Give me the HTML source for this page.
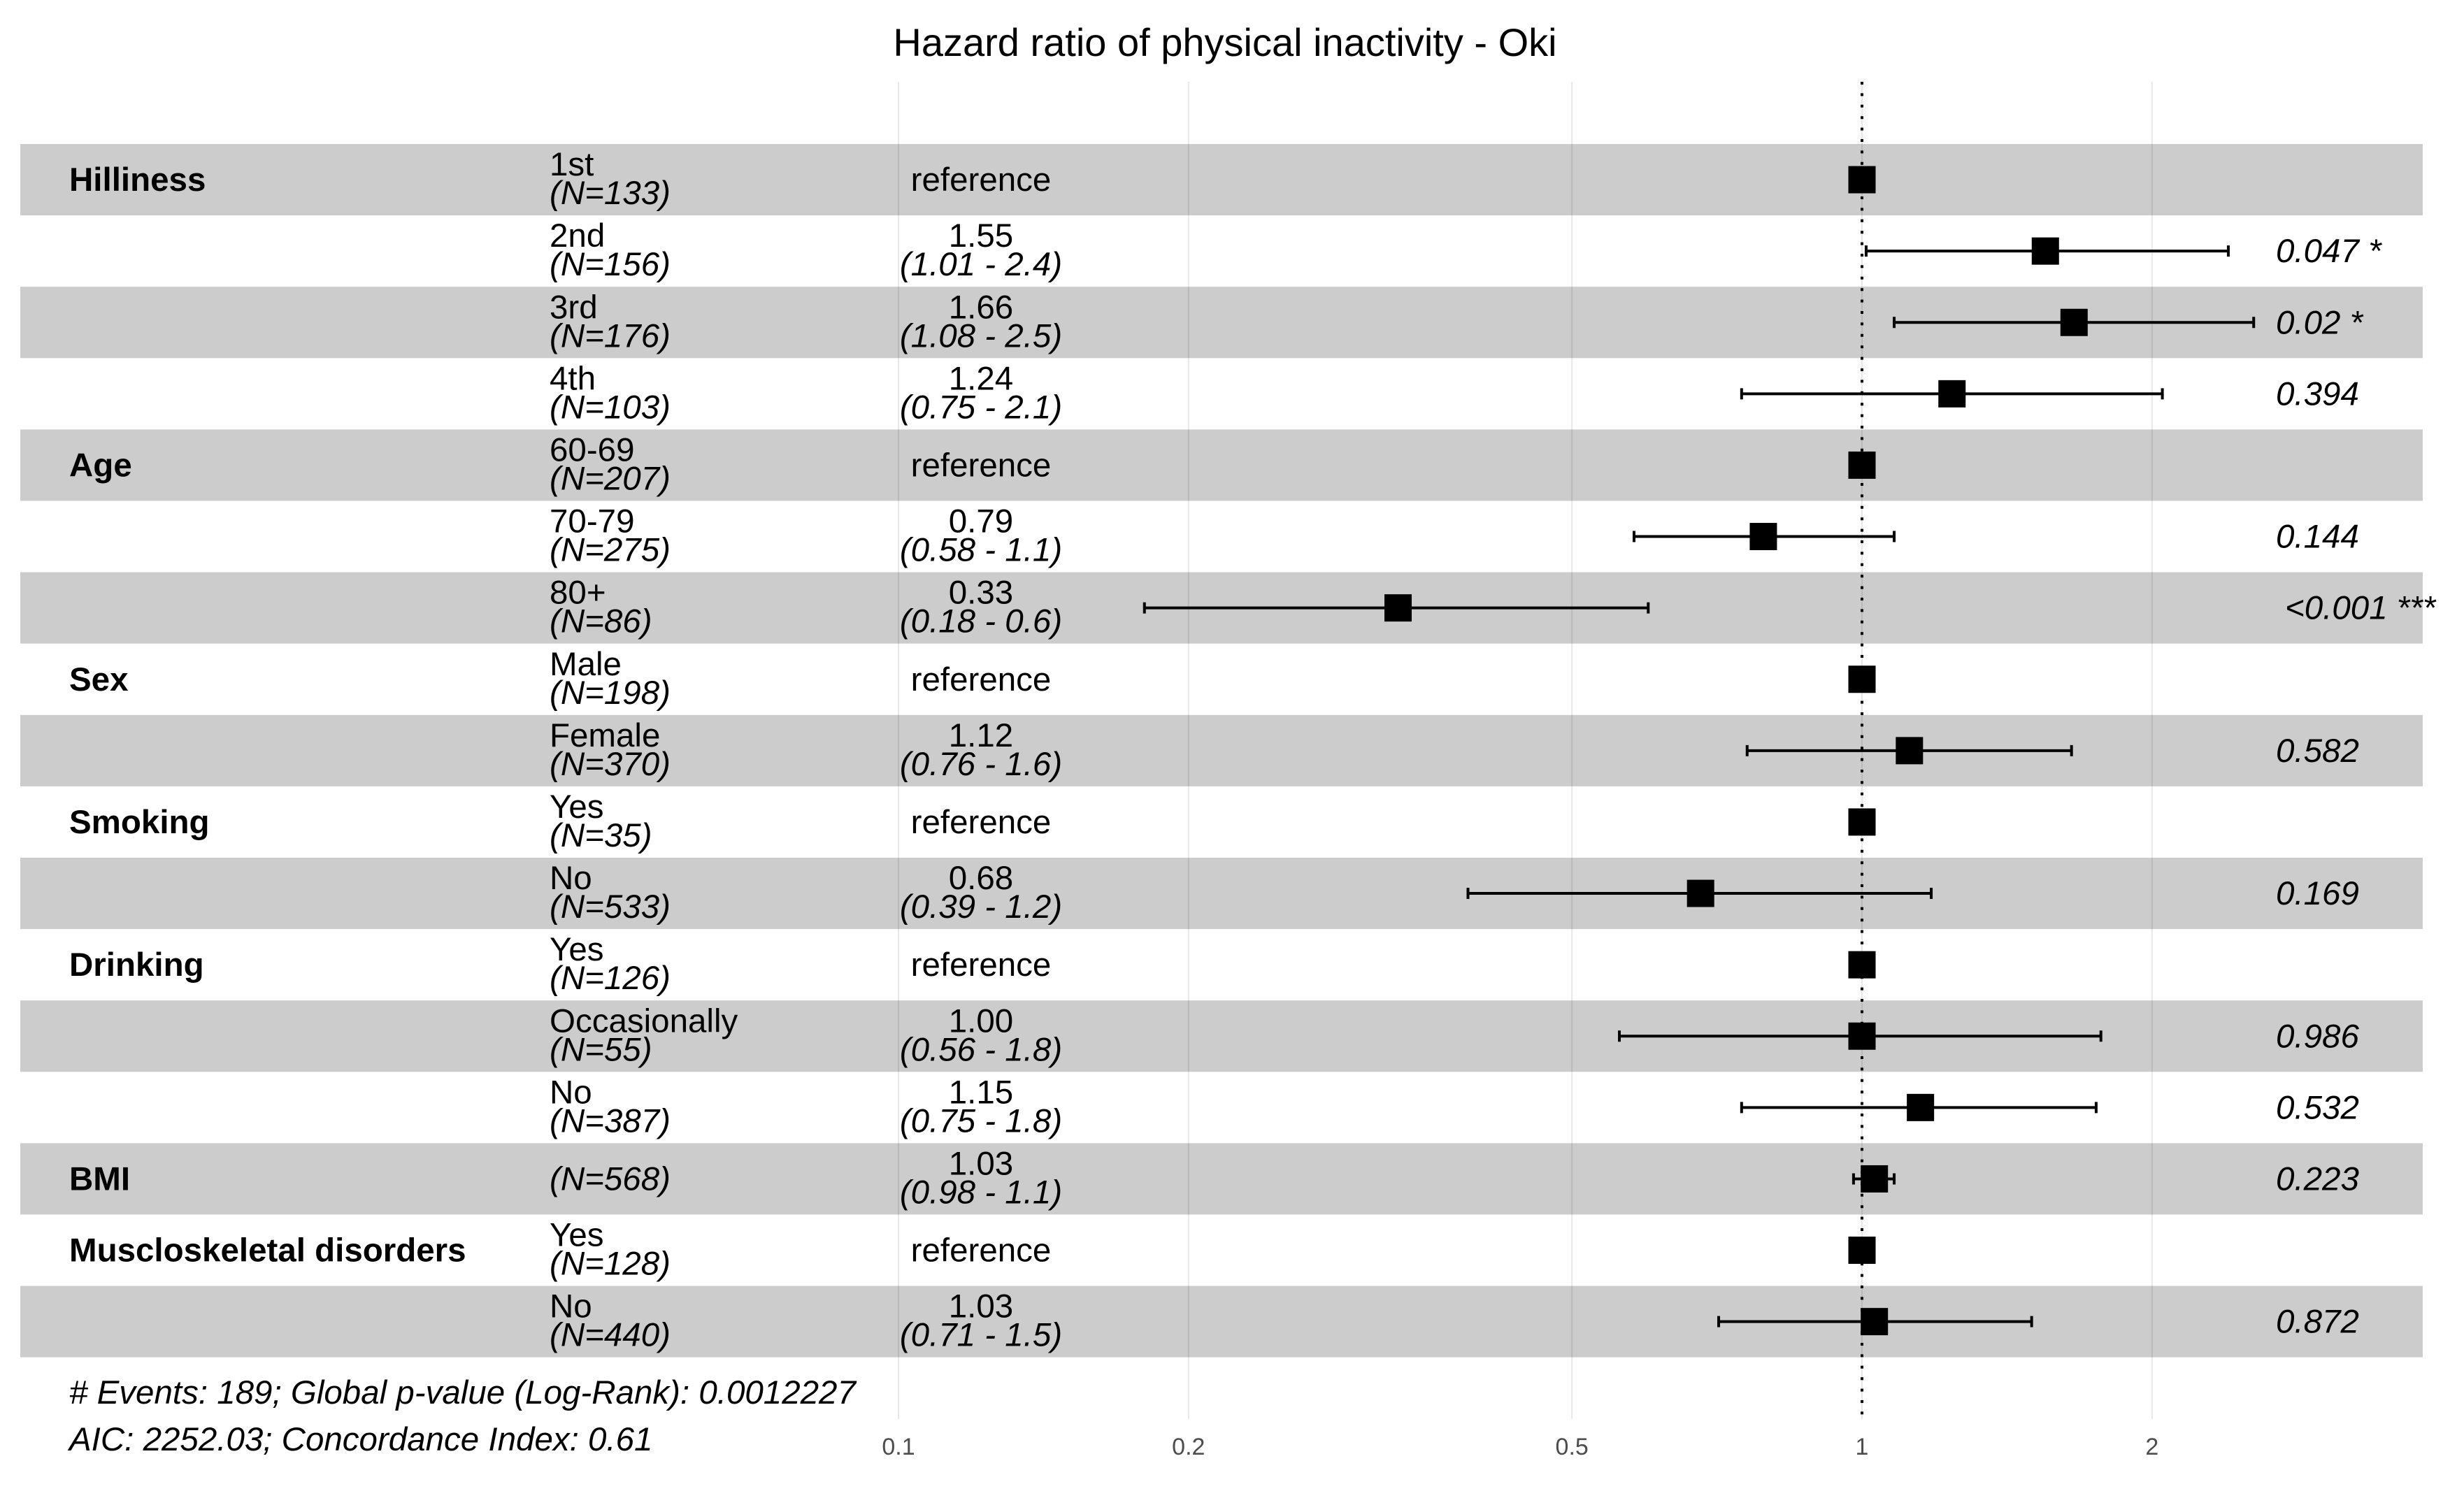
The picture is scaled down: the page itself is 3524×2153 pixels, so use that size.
<!DOCTYPE html>
<html><head><meta charset="utf-8"><style>
html,body{margin:0;padding:0;background:#fff;}
svg{display:block;font-family:"Liberation Sans",Arial,sans-serif;}
</style></head><body>
<svg id="chart" width="3524" height="2153" viewBox="0 0 3524 2153" xmlns="http://www.w3.org/2000/svg">
<text x="1752" y="80" text-anchor="middle" font-size="56" fill="#000">Hazard ratio of physical inactivity - Oki</text>
<g id="bands"></g><g id="grid"></g><g id="labels"></g><g id="marks"></g>
<text x="99" y="2008" font-size="47.5" font-style="italic"># Events: 189; Global p-value (Log-Rank): 0.0012227</text>
<text x="99" y="2075" font-size="47.5" font-style="italic">AIC: 2252.03; Concordance Index: 0.61</text>
</svg>
<script>
const groups = ["Hilliness","","","","Age","","","Sex","","Smoking","","Drinking","","","BMI","Muscloskeletal disorders",""];
const levels = ["1st","2nd","3rd","4th","60-69","70-79","80+","Male","Female","Yes","No","Yes","Occasionally","No","","Yes","No"];
const counts = [133,156,176,103,207,275,86,198,370,35,533,126,55,387,568,128,440];
const hr = [1,1.55,1.66,1.24,1,0.79,0.33,1,1.12,1,0.68,1,1.00,1.15,1.03,1,1.03];
const lower = [null,1.01,1.08,0.75,null,0.58,0.18,null,0.76,null,0.39,null,0.56,0.75,0.98,null,0.71];
const upper = [null,2.4,2.55,2.05,null,1.08,0.6,null,1.65,null,1.18,null,1.77,1.75,1.08,null,1.5];
const estText = ["reference","1.55","1.66","1.24","reference","0.79","0.33","reference","1.12","reference","0.68","reference","1.00","1.15","1.03","reference","1.03"];
const ciText = ["","(1.01 - 2.4)","(1.08 - 2.5)","(0.75 - 2.1)","","(0.58 - 1.1)","(0.18 - 0.6)","","(0.76 - 1.6)","","(0.39 - 1.2)","","(0.56 - 1.8)","(0.75 - 1.8)","(0.98 - 1.1)","","(0.71 - 1.5)"];
const pText = ["","0.047 *","0.02 *","0.394","","0.144","<0.001 ***","","0.582","","0.169","","0.986","0.532","0.223","","0.872"];
const ticks = [0.1,0.2,0.5,1,2];
const tickLabels = ["0.1","0.2","0.5","1","2"];

const NS="http://www.w3.org/2000/svg";
const top0=206, rowH=102.1, left=29, right=3465, FS=47.5;
function x(v){return 2663+1378*Math.log10(v);}
function y(i){return top0+rowH*(i+0.5);}
function mk(tag,attrs,parent,txt){const e=document.createElementNS(NS,tag);for(const k in attrs)e.setAttribute(k,attrs[k]);if(txt!==undefined)e.textContent=txt;parent.appendChild(e);return e;}
const bands=document.getElementById('bands'),grid=document.getElementById('grid'),labels=document.getElementById('labels'),marks=document.getElementById('marks');
for(let i=0;i<hr.length;i+=2){
  const r=mk('rect',{x:left,y:top0+rowH*i,width:right-left,height:rowH,fill:'#cccccc'},bands);
  
  
}
ticks.forEach((t,k)=>{
  const l=mk('line',{x1:x(t),x2:x(t),y1:117,y2:2030,stroke:'rgba(0,0,0,0.09)','stroke-width':2},grid);
  
  
  const tl=mk('text',{x:x(t),y:2081,'text-anchor':'middle','font-size':34,fill:'#4d4d4d'},grid,tickLabels[k]);
  
  
});
const ref=mk('line',{x1:x(1),x2:x(1),y1:117,y2:2030,stroke:'#000','stroke-width':4,'stroke-dasharray':'4 12.4'},grid);


for(let i=0;i<hr.length;i++){
  const cy=y(i);
  if(groups[i]){const g=mk('text',{x:99,y:cy+16,'font-size':FS,'font-weight':'bold'},labels,groups[i]);
    
    }
  if(levels[i]){const lv=mk('text',{x:786,y:cy-6,'font-size':FS},labels,levels[i]);
    
    }
  const n=mk('text',{x:786,y:levels[i]?cy+35:cy+16,'font-size':FS,'font-style':'italic'},labels,'(N='+counts[i]+')');
  
  
  if(ciText[i]){
    const e=mk('text',{x:1403,y:cy-6,'font-size':FS,'text-anchor':'middle'},labels,estText[i]);
    
    
    const c=mk('text',{x:1403,y:cy+35,'font-size':FS,'text-anchor':'middle','font-style':'italic'},labels,ciText[i]);
    
    
  } else {
    const e=mk('text',{x:1403,y:cy+16,'font-size':FS,'text-anchor':'middle'},labels,estText[i]);
    
    
  }
  if(pText[i]){const p=mk('text',{x:pText[i][0]=='<'?3268:3255,y:cy+16,'font-size':FS,'font-style':'italic'},labels,pText[i]);
    
    }
  if(lower[i]!==null){
    const eb=mk('path',{d:`M${x(lower[i])},${cy}H${x(upper[i])}M${x(lower[i])},${cy-8}V${cy+8}M${x(upper[i])},${cy-8}V${cy+8}`,stroke:'#000','stroke-width':4,fill:'none'},marks);
    
    
  }
  const s=mk('rect',{x:x(hr[i])-19.5,y:cy-19.5,width:39,height:39,fill:'#000'},marks);
  
  
}
</script>
</body></html>
